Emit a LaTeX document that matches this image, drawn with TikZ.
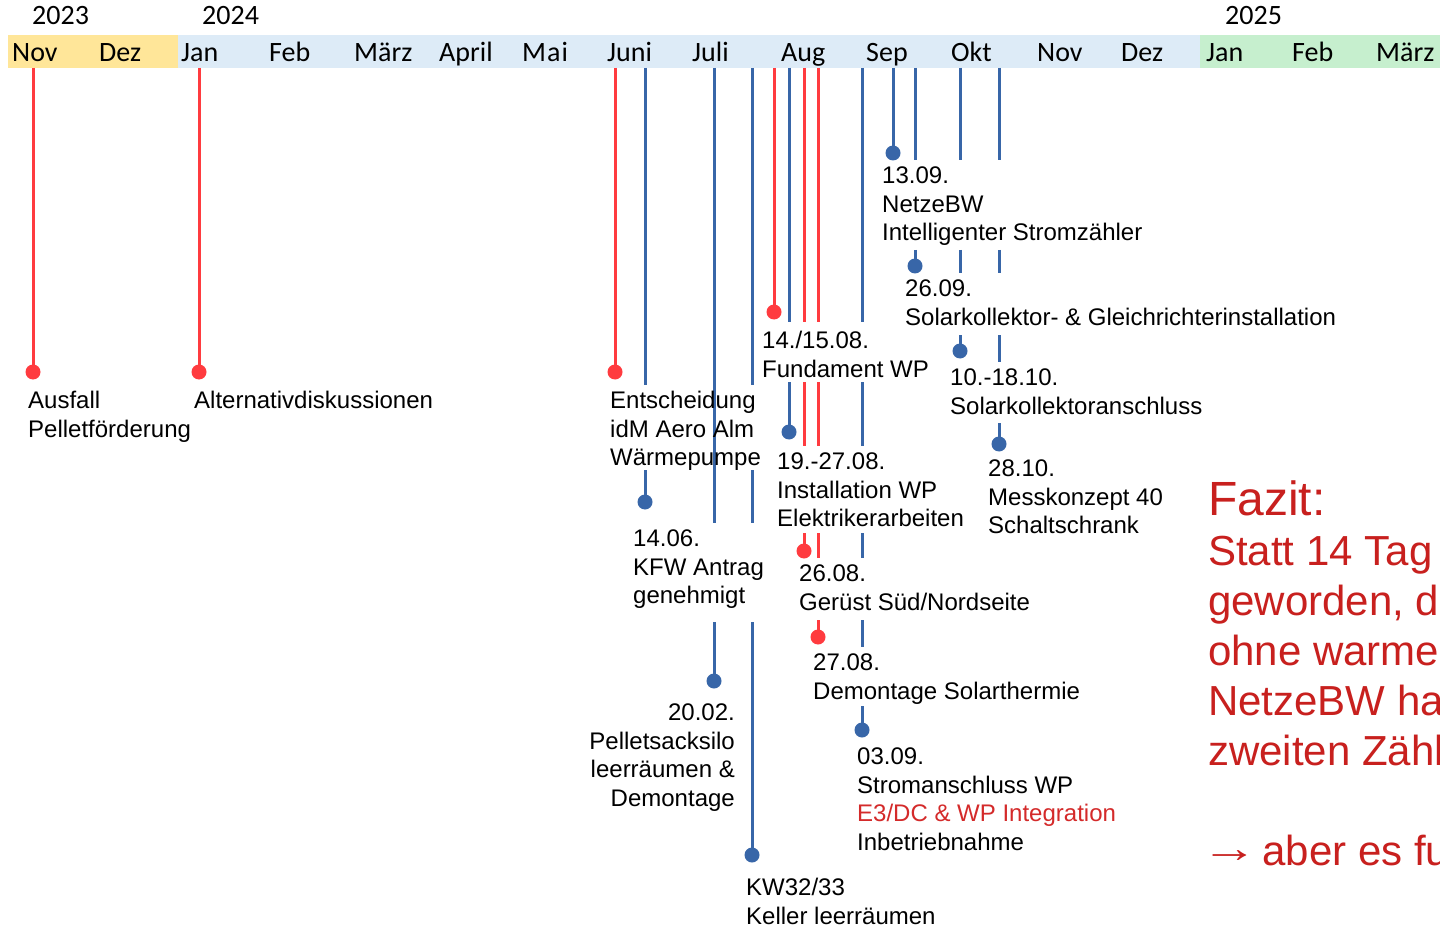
\documentclass[tikz,border=0pt]{standalone}
\usepackage{fontspec}
\setmainfont{Liberation Sans}
\newfontfamily\calib{Carlito}
\definecolor{lred}{HTML}{FF3B3F}
\definecolor{lblue}{HTML}{3866A8}
\definecolor{fred}{HTML}{C8201E}
\definecolor{ered}{HTML}{D42A2A}
\definecolor{byel}{HTML}{FFE699}
\definecolor{bblue}{HTML}{DDEBF7}
\definecolor{bgreen}{HTML}{C6EFCE}
\tikzset{
  rl/.style={draw=lred, line width=3pt},
  bl/.style={draw=lblue, line width=3pt},
  rdot/.style={circle, fill=lred, inner sep=0pt, minimum size=15pt},
  bdot/.style={circle, fill=lblue, inner sep=0pt, minimum size=15pt},
  lbl/.style={font=\fontsize{24}{28.5}\selectfont, align=left, anchor=north west, inner sep=0pt},
  mon/.style={font=\calib\fontsize{28}{30}\selectfont, anchor=base west, inner sep=0pt},
  fazit/.style={font=\fontsize{42}{50}\selectfont, text=fred, align=left, anchor=north west, inner sep=0pt}
}
\begin{document}
\begin{tikzpicture}[x=1pt,y=-1pt]
\useasboundingbox (0,0) rectangle (1440,925);
\clip (0,0) rectangle (1440,925);
\fill[white] (0,0) rectangle (1440,925);
% header bar
\fill[byel] (8,35) rectangle (178,68);
\fill[bblue] (178,35) rectangle (1200,68);
\fill[bgreen] (1200,35) rectangle (1440,68);
% years
\node[mon] (y23) at (32,25) {2023};
\node[mon] (y24) at (202,25) {2024};
\node[mon] (y25) at (1225,25) {2025};
% months
\foreach \i/\x/\t in {1/12/Nov,2/99/Dez,3/181/Jan,4/269/Feb,5/354/März,6/439/April,7/522/M{\kern1pt}a{\kern1pt}i,8/607/Juni,9/692/Juli,10/781/Aug,11/866/Sep,12/951/Okt,13/1037/Nov,14/1121/Dez,15/1206/Jan,16/1292/Feb,17/1376/März}
  \node[mon] (m\i) at (\x,62) {\t};
% line segments
\foreach \n/\x/\ya/\yb/\c in {
  1/33/68/372/rl, 2/199/68/372/rl, 3/615/68/372/rl,
  4/645/68/385/bl, 5/645/470/502/bl,
  6/714/68/523/bl, 7/714/622/681/bl,
  8/752/68/385/bl, 9/752/470/523/bl, 10/752/622/855/bl,
  11/774/68/312/rl,
  12/789/68/322/bl, 13/789/382/432/bl,
  14/804/68/322/rl, 15/804/382/446/rl, 16/804/533/551/rl,
  17/818/68/322/rl, 18/818/382/446/rl, 19/818/533/558/rl, 20/818/620/637/rl,
  21/862/68/322/bl, 22/862/382/446/bl, 23/862/533/558/bl, 24/862/620/647/bl, 25/862/706/730/bl,
  26/893/68/153/bl,
  27/915/68/160/bl, 28/915/250/266/bl,
  29/960/68/160/bl, 30/960/250/273/bl, 31/960/335/351/bl,
  32/999/68/160/bl, 33/999/250/273/bl, 34/999/335/362/bl, 35/999/423/444/bl}{
  \coordinate (s\n a) at (\x,\ya);
  \coordinate (s\n b) at (\x,\yb);
  \draw[\c] (s\n a) -- (s\n b);
}
% dots
\node[rdot] (d1) at (s1b) {};
\node[rdot] (d2) at (s2b) {};
\node[rdot] (d3) at (s3b) {};
\node[bdot] (d4) at (s5b) {};
\node[bdot] (d5) at (s7b) {};
\node[bdot] (d6) at (s10b) {};
\node[rdot] (d7) at (s11b) {};
\node[bdot] (d8) at (s13b) {};
\node[rdot] (d9) at (s16b) {};
\node[rdot] (d10) at (s20b) {};
\node[bdot] (d11) at (s25b) {};
\node[bdot] (d12) at (s26b) {};
\node[bdot] (d13) at (s28b) {};
\node[bdot] (d14) at (s31b) {};
\node[bdot] (d15) at (s35b) {};
% labels
\node[lbl] (tAus) at (28,391) {Ausfall\\Pelletförderung};
\node[lbl] (tAlt) at (194,391) {Alternativdiskussionen};
\node[lbl] (tEnt) at (610,391) {Entscheidung\\idM Aero Alm\\Wärmepumpe};
\node[lbl] (tKfw) at (633,530) {14.06.\\KFW Antrag\\genehmigt};
\node[lbl, align=right, anchor=north east] (tSilo) at (735,704) {20.02. \\Pelletsacksilo\\leerräumen \&\\Demontage};
\node[lbl] (tKel) at (746,878) {KW32/33\\Keller leerräumen};
\node[lbl] (tFun) at (762,331) {14./15.08.\\Fundament WP};
\node[lbl] (tIns) at (777,453) {19.-27.08.\\Installation WP\\Elektrikerarbeiten};
\node[lbl] (tGer) at (799,565) {26.08.\\Gerüst Süd/Nordseite};
\node[lbl] (tDem) at (813,654) {27.08.\\Demontage Solarthermie};
\node[lbl] (tStr) at (857,748) {03.09.\\Stromanschluss WP\\{\color{ered}E3/DC \& WP Integration}\\Inbetriebnahme};
\node[lbl] (tNet) at (882,167) {13.09.\\NetzeBW\\Intelligenter Stromzähler};
\node[lbl] (tSol) at (905,280) {26.09.\\Solarkollektor- \& Gleichrichterinstallation};
\node[lbl] (tAns) at (950,369) {10.-18.10.\\Solarkollektoranschluss};
\node[lbl] (tMes) at (988,460) {28.10.\\Messkonzept 40\\Schaltschrank};
% Fazit
\node[fazit] (fz) at (1208,481) {{\fontsize{48}{50}\selectfont Fazit:}\\Statt 14 Tag\\geworden, d\\ohne warme\\NetzeBW ha\\zweiten Zähl\\[50pt]\kern-7pt\raisebox{3pt}{\scalebox{1.35}[1]{→}}\kern-7pt{} aber es fu};
\end{tikzpicture}
\end{document}
